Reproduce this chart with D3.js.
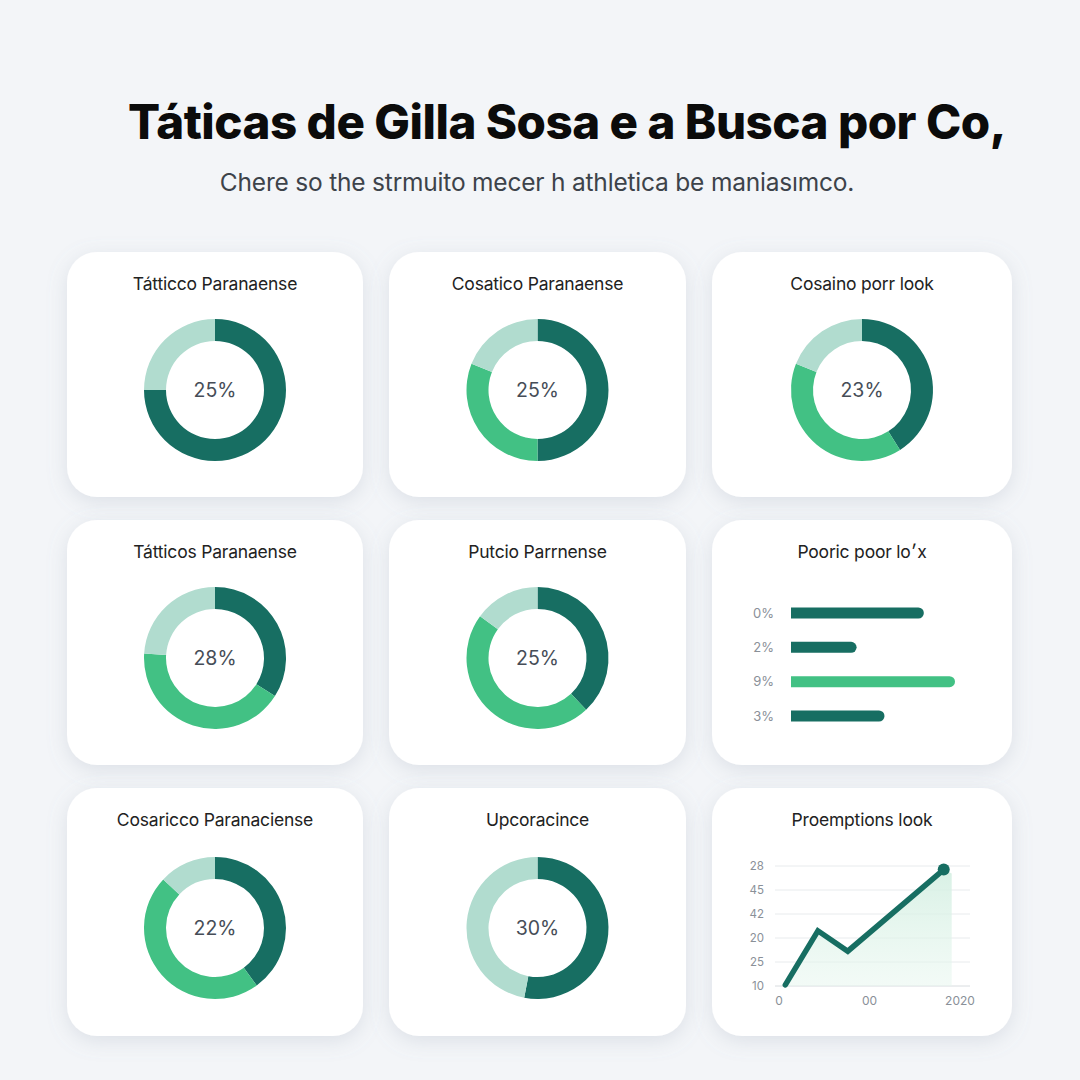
<!DOCTYPE html>
<html>
<head>
<meta charset="utf-8">
<script src="https://cdn.jsdelivr.net/npm/d3@7"></script>
<style>
  html, body { margin: 0; padding: 0; background: #f3f5f8; }
  svg { display: block; }
</style>
</head>
<body>
<svg id="chart" width="1080" height="1080"></svg>
<script>
// ---------- DATA ----------
const titleText = "Táticas de Gilla Sosa e a Busca por Co,";
const subtitleText = "Chere so the strmuito mecer h athletica be maniasımco.";

const panelTitles = [
  "Tátticco Paranaense", "Cosatico Paranaense", "Cosaino porr look",
  "Tátticos Paranaense", "Putcio Parrnense", "Pooric poor lo׳x",
  "Cosaricco Paranaciense", "Upcoracince", "Proemptions look"
];
const donutLabels = ["25%", "25%", "23%", "28%", "25%", null, "22%", "30%", null];
// segments: [dark, medium, light] shares (clockwise from 12 o'clock)
const donutDark   = [75, 50, 41, 34, 38, null, 40, 53, null];
const donutMedium = [0, 31, 40, 42, 47, null, 47, 0, null];
const donutLight  = [25, 19, 19, 24, 15, null, 13, 47, null];

const barLabels = ["0%", "2%", "9%", "3%"];
const barValues = [81, 40, 100, 57];
const barHighlight = [false, false, true, false];

const lineYTicks = ["10", "25", "20", "42", "45", "28"];
const lineXTicks = ["0", "00", "2020"];
const lineX = [0.07, 0.43, 0.76, 1.82];
const lineY = [0.05, 2.3, 1.45, 4.85];

// ---------- STYLE ----------
const C_DARK = "#176e62", C_MED = "#42c184", C_LIGHT = "#b1dccf";
const FONT = "Inter, 'Open Sans', sans-serif";
const svg = d3.select("#chart");
const defs = svg.append("defs");
const f = defs.append("filter").attr("id", "shadow").attr("x", "-20%").attr("y", "-20%").attr("width", "140%").attr("height", "140%");
f.append("feDropShadow").attr("dx", 0).attr("dy", 5).attr("stdDeviation", 10).attr("flood-color", "#8a97a8").attr("flood-opacity", 0.22);
const grad = defs.append("linearGradient").attr("id", "areaGrad").attr("x1", 0).attr("y1", 0).attr("x2", 0).attr("y2", 1);
grad.append("stop").attr("offset", "0%").attr("stop-color", "#d4efe2").attr("stop-opacity", 0.9);
grad.append("stop").attr("offset", "100%").attr("stop-color", "#e6f6ee").attr("stop-opacity", 0.5);

svg.append("rect").attr("width", 1080).attr("height", 1080).attr("fill", "#f3f5f8");

svg.append("text").attr("x", 567).attr("y", 139).attr("text-anchor", "middle")
  .attr("font-family", FONT).attr("font-weight", 800)
  .attr("font-size", 47.5).attr("fill", "#0b0b0b").attr("letter-spacing", -0.5).text(titleText);

svg.append("text").attr("x", 537).attr("y", 191).attr("text-anchor", "middle")
  .attr("font-family", FONT).attr("font-weight", 400)
  .attr("font-size", 24.5).attr("fill", "#3d434a").attr("letter-spacing", -0.2).text(subtitleText);

// ---------- PANELS ----------
const colX = [67, 389, 712];
const colW = [296, 297, 300];
const rowY = [252, 520, 788];
const rowH = [245, 245, 248];

panelTitles.forEach((t, i) => {
  const r = Math.floor(i / 3), c = i % 3;
  const g = svg.append("g").attr("transform", `translate(${colX[c]},${rowY[r]})`);
  g.append("rect").attr("width", colW[c]).attr("height", rowH[r]).attr("rx", 30)
    .attr("fill", "#ffffff").attr("filter", "url(#shadow)");
  g.append("text").attr("x", colW[c] / 2).attr("y", 38).attr("text-anchor", "middle")
    .attr("font-family", FONT).attr("font-size", 17.5)
    .attr("fill", "#222").attr("letter-spacing", -0.2).text(t);

  if (donutLabels[i] !== null) drawDonut(g, i, colW[c] / 2, r === 2 ? 140 : 138);
});

function drawDonut(g, i, cx, cy) {
  const segs = [
    { v: donutDark[i], c: C_DARK },
    { v: donutMedium[i], c: C_MED },
    { v: donutLight[i], c: C_LIGHT }
  ];
  const pie = d3.pie().value(d => d.v).sort(null);
  const arc = d3.arc().innerRadius(49).outerRadius(71);
  const dg = g.append("g").attr("transform", `translate(${cx},${cy})`);
  dg.selectAll("path").data(pie(segs)).join("path").attr("d", arc).attr("fill", d => d.data.c);
  dg.append("text").attr("y", 7).attr("text-anchor", "middle")
    .attr("font-family", FONT).attr("font-size", 19.5)
    .attr("fill", "#464d57").text(donutLabels[i]);
}

// ---------- BAR PANEL ----------
{
  const g = svg.append("g");
  const x = d3.scaleLinear().domain([0, 100]).range([791, 955]);
  const y = d3.scalePoint().domain(barLabels.map((d, k) => k)).range([613, 716]);
  const h = 11;
  barValues.forEach((v, k) => {
    const y0 = y(k) - h / 2, x0 = x(0), x1 = x(v), rr = h / 2;
    const p = d3.path();
    p.moveTo(x0, y0); p.lineTo(x1 - rr, y0);
    p.arc(x1 - rr, y0 + rr, rr, -Math.PI / 2, Math.PI / 2);
    p.lineTo(x0, y0 + h); p.closePath();
    g.append("path").attr("d", p.toString()).attr("fill", barHighlight[k] ? C_MED : C_DARK);
    g.append("text").attr("x", 774).attr("y", y(k) + 4.5).attr("text-anchor", "end")
      .attr("font-family", FONT).attr("font-size", 13)
      .attr("fill", "#8a9098").text(barLabels[k]);
  });
}

// ---------- LINE PANEL ----------
{
  const g = svg.append("g");
  const x = d3.scaleLinear().domain([0, 2]).range([779, 960]);
  const y = d3.scaleLinear().domain([0, 5]).range([986, 866]);
  lineYTicks.forEach((t, k) => {
    g.append("line").attr("x1", 775).attr("x2", 970).attr("y1", y(k)).attr("y2", y(k))
      .attr("stroke", k === 0 ? "#d8dcdf" : "#e8ebed").attr("stroke-width", 1);
    g.append("text").attr("x", 764).attr("y", y(k) + 4).attr("text-anchor", "end")
      .attr("font-family", FONT).attr("font-size", 11.5)
      .attr("fill", "#8a9098").text(t);
  });
  lineXTicks.forEach((t, k) => {
    g.append("text").attr("x", x(k)).attr("y", 1005).attr("text-anchor", "middle")
      .attr("font-family", FONT).attr("font-size", 12)
      .attr("fill", "#8a9098").text(t);
  });
  const pts = lineX.map((v, k) => [x(v), y(lineY[k])]);
  const area = d3.area().x(d => d[0]).y0(y(0)).y1(d => d[1]);
  const areaPts = pts.concat([[pts[pts.length - 1][0] + 8, pts[pts.length - 1][1] + 4]]);
  g.append("path").attr("d", area(areaPts)).attr("fill", "url(#areaGrad)");
  g.append("path").attr("d", d3.line()(pts)).attr("fill", "none").attr("stroke", C_DARK)
    .attr("stroke-width", 5.5).attr("stroke-linejoin", "miter").attr("stroke-linecap", "round");
  const last = pts[pts.length - 1];
  g.append("circle").attr("cx", last[0]).attr("cy", last[1]).attr("r", 6).attr("fill", C_DARK);
}
</script>
</body>
</html>
